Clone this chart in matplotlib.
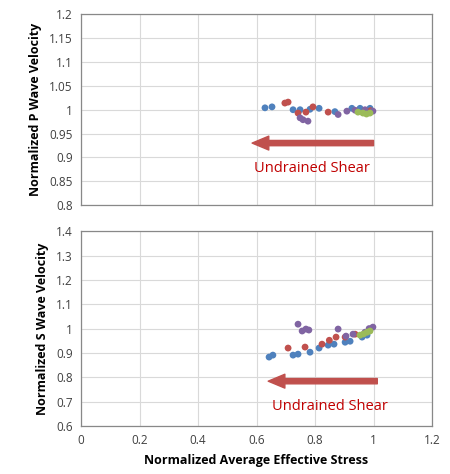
import numpy as np
import matplotlib.pyplot as plt

plt.rcParams['font.family'] = ['Open Sans', 'DejaVu Sans']

# top panel: normalized P wave velocity
p_blue_x = [0.629, 0.653, 0.725, 0.749, 0.783, 0.814, 0.868, 0.926, 0.954, 0.988]
p_blue_y = [1.004, 1.006, 1.000, 1.000, 1.001, 1.003, 0.996, 1.003, 1.003, 1.003]
p_red_x = [0.697, 0.708, 0.742, 0.769, 0.793, 0.845, 0.990]
p_red_y = [1.014, 1.016, 0.993, 0.995, 1.006, 0.995, 0.998]
p_purple_x = [0.749, 0.759, 0.776, 0.879, 0.909, 0.937, 0.971, 0.998]
p_purple_y = [0.983, 0.979, 0.976, 0.990, 0.997, 0.999, 1.000, 0.997]
p_green_x = [0.947, 0.964, 0.976, 0.988]
p_green_y = [0.995, 0.993, 0.991, 0.993]

# bottom panel: normalized S wave velocity
s_blue_x = [0.643, 0.656, 0.725, 0.742, 0.783, 0.814, 0.845, 0.865, 0.903, 0.920, 0.961, 0.978]
s_blue_y = [0.883, 0.891, 0.891, 0.895, 0.903, 0.920, 0.932, 0.936, 0.944, 0.948, 0.965, 0.973]
s_red_x = [0.708, 0.766, 0.824, 0.849, 0.872, 0.903, 0.937]
s_red_y = [0.920, 0.924, 0.936, 0.952, 0.965, 0.965, 0.977]
s_purple_x = [0.742, 0.756, 0.769, 0.779, 0.879, 0.906, 0.930, 0.971, 0.985, 0.998]
s_purple_y = [1.018, 0.990, 0.998, 0.994, 0.998, 0.969, 0.977, 0.985, 1.000, 1.006]
s_green_x = [0.954, 0.966, 0.978, 0.988]
s_green_y = [0.973, 0.978, 0.985, 0.990]

x_ticks = [0, 0.2, 0.4, 0.6, 0.8, 1, 1.2]
p_ticks = [0.8, 0.85, 0.9, 0.95, 1, 1.05, 1.1, 1.15, 1.2]
s_ticks = [0.6, 0.7, 0.8, 0.9, 1, 1.1, 1.2, 1.3, 1.4]

blue, red, green, purple = '#4F81BD', '#C0504D', '#9BBB59', '#8064A2'

fig = plt.figure(figsize=(4.5, 4.74), dpi=100)
ax1 = fig.add_axes([0.18, 0.5675, 0.78, 0.402])
ax2 = fig.add_axes([0.18, 0.1013, 0.78, 0.411])


def style(ax, yt):
    ax.set_xlim(0, 1.2)
    ax.set_ylim(yt[0], yt[-1])
    ax.set_xticks(x_ticks)
    ax.set_yticks(yt)
    ax.set_yticklabels([('%g' % v) for v in yt])
    ax.grid(True, color='#D9D9D9', linewidth=0.8)
    ax.set_axisbelow(True)
    for s in ax.spines.values():
        s.set_color('#888888')
        s.set_linewidth(0.9)
    ax.tick_params(length=0, labelsize=8.5, colors='#404040', pad=6)


def arrow(ax, x0, x1, y, tx, ty):
    ax.annotate('', xy=(x1, y), xytext=(x0, y),
                arrowprops=dict(arrowstyle='simple,head_width=1.0,head_length=1.2,tail_width=0.38',
                                color=red, mutation_scale=10, shrinkA=0, shrinkB=0))
    ax.text(tx, ty, 'Undrained Shear', color='#C00000', fontsize=10.5, ha='center', va='center')


ms = 24
for ax, data in [(ax1, [(p_blue_x, p_blue_y, blue), (p_red_x, p_red_y, red),
                        (p_purple_x, p_purple_y, purple), (p_green_x, p_green_y, green)]),
                 (ax2, [(s_blue_x, s_blue_y, blue), (s_red_x, s_red_y, red),
                        (s_purple_x, s_purple_y, purple), (s_green_x, s_green_y, green)])]:
    for xs, ys, c in data:
        ax.scatter(xs, ys, s=ms, color=c, edgecolors='none', zorder=3)

style(ax1, p_ticks)
style(ax2, s_ticks)
ax1.set_xticklabels([])
ax2.set_xticklabels([('%g' % v) for v in x_ticks])

ax1.set_ylabel('Normalized P Wave Velocity', fontsize=9, fontweight='bold', labelpad=5)
ax2.set_ylabel('Normalized S Wave Velocity', fontsize=9, fontweight='bold', labelpad=5)
ax2.set_xlabel('Normalized Average Effective Stress', fontsize=9, fontweight='bold', labelpad=5)

arrow(ax1, 1.0, 0.585, 0.93, 0.79, 0.876)
arrow(ax2, 1.013, 0.64, 0.784, 0.85, 0.678)

fig.savefig('out.png', dpi=100)
